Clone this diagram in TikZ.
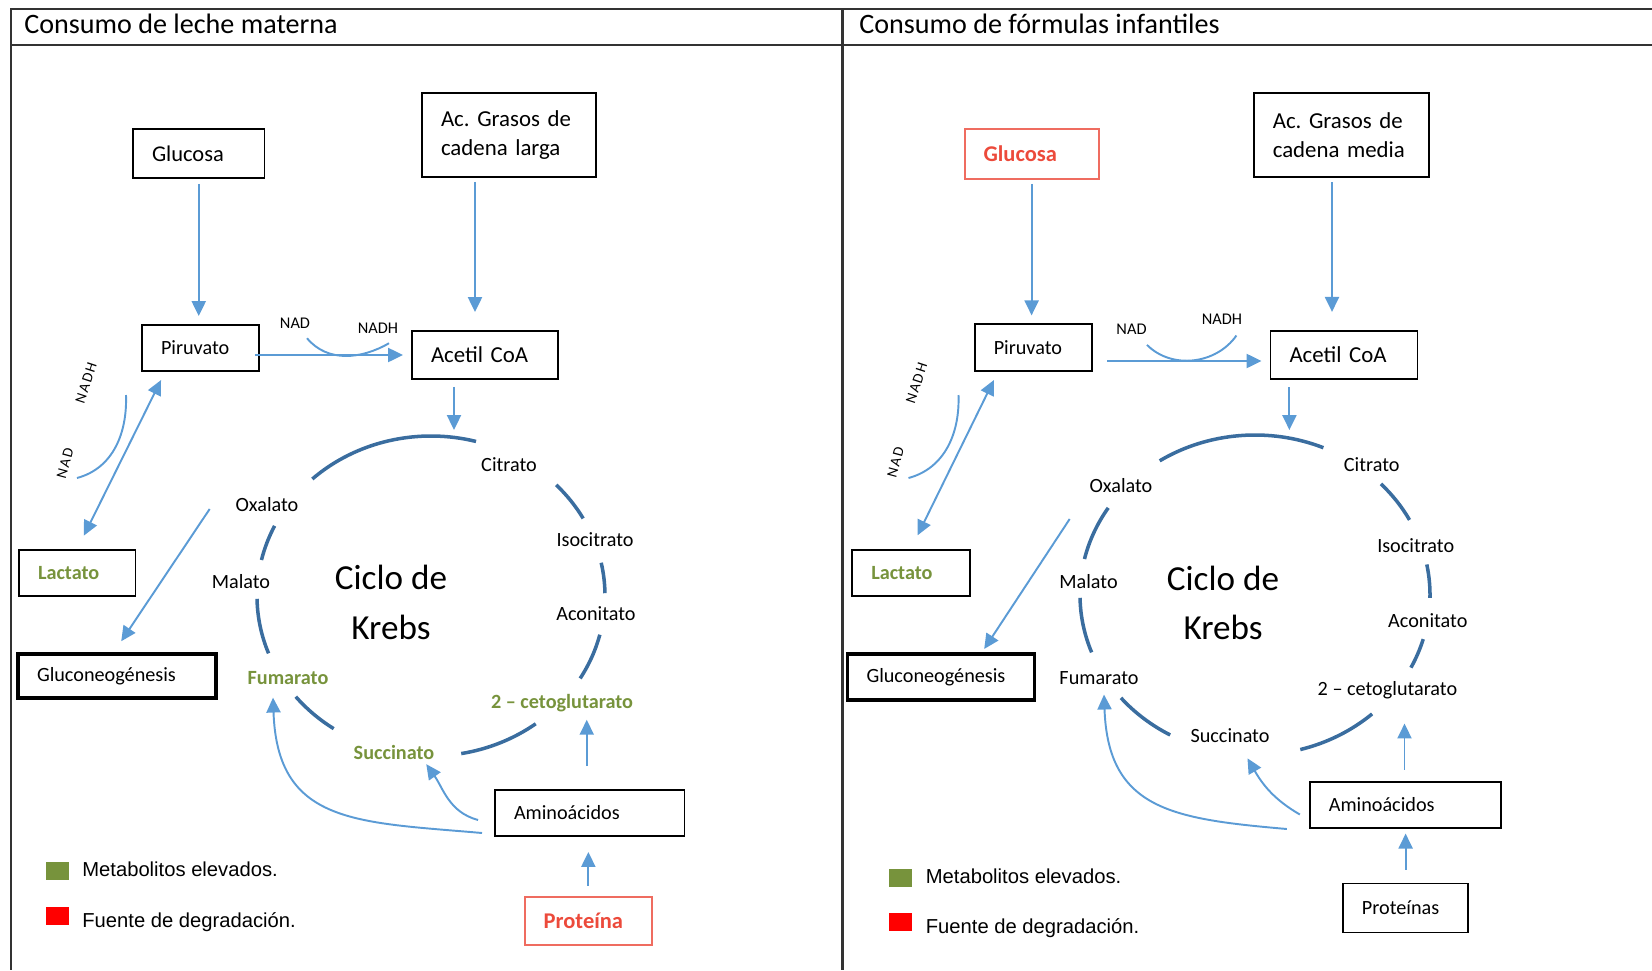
\documentclass[tikz,border=0pt]{standalone}
\usepackage{fontspec}
\setmainfont{Carlito}
\newfontfamily\legfont{Liberation Sans}
\newfontfamily\cofzfont[LetterSpace=12]{Carlito}
\usetikzlibrary{arrows.meta}
\newlength{\upx}
\setlength{\upx}{0.02cm}
\definecolor{arrblue}{HTML}{5B9BD5}
\definecolor{cycblue}{HTML}{3A6D9F}
\definecolor{okgreen}{HTML}{77933C}
\definecolor{srcred}{HTML}{EC4A3B}
\definecolor{srcline}{HTML}{EF6C60}
\frenchspacing

\begin{document}
\begin{tikzpicture}[x=0.02cm, y=0.02cm,
  every node/.style={font=\fontsize{11.5}{14}\selectfont, inner sep=1.5pt},
  >={Triangle[length=8.5pt, width=8pt]},
  panel/.style={black!80, line width=1.2pt},
  box/.style={draw, line width=1.1pt, inner xsep=19\upx, inner ysep=0pt, align=left},
  elev/.style={text=okgreen, font=\bfseries\fontsize{11.5}{14}\selectfont},
  src/.style={draw=srcline, text=srcred, font=\bfseries\fontsize{12.8}{15}\selectfont},
  cof/.style={font=\fontsize{9.3}{11}\selectfont},
  cofz/.style={font=\cofzfont\fontsize{8.5}{10}\selectfont, inner sep=0pt},
  ttl/.style={anchor=base west, inner sep=0pt, font=\fontsize{16}{18}\selectfont},
  arr/.style={->, arrblue, line width=1.1pt},
  thinb/.style={arrblue, line width=1.1pt},
  cyc/.style={cycblue, line width=2pt},
  keytxt/.style={font=\legfont\fontsize{11.5}{13}\selectfont, inner sep=0pt, anchor=base west}]
  \useasboundingbox (0,0) rectangle (1652,-970);

  \draw[panel] (1652,-9) -- (11,-9) -- (11,-970);
  \draw[panel] (11,-45) -- (1652,-45);
  \draw[panel] (842.5,-9) -- (842.5,-970);
  \node[ttl] (ttlL) at (24,-33) {Consumo de leche materna};
  \node[ttl] (ttlR) at (859,-33) {Consumo de fórmulas infantiles};

  \node[box, text width=93.5\upx, minimum height=49\upx, font=\fontsize{12.8}{15}\selectfont] (gluL) at (198.75,-153.5) {Glucosa};
  \node[box, text width=136\upx, minimum height=84\upx, font=\fontsize{13}{16.5}\selectfont] (acgL) at (509,-135) {Ac. Grasos de\\cadena larga};
  \node[box, text width=79\upx, minimum height=46\upx] (pirL) at (200.5,-348) {Piruvato};
  \node[box, text width=108\upx, minimum height=48\upx, font=\fontsize{13}{15}\selectfont] (acoL) at (485,-355) {Acetil CoA};
  \node[box, elev, text width=78.5\upx, minimum height=46\upx] (lacL) at (77.25,-573) {Lactato};
  \node[box, line width=2.2pt, text width=160\upx, minimum height=44\upx] (gngL) at (117,-676) {Gluconeogénesis};
  \node[box, text width=151.5\upx, minimum height=46\upx] (amiL) at (589.75,-813) {Aminoácidos};
  \node[box, src, text width=89.3\upx, minimum height=48.5\upx] (proL) at (588.35,-921) {Proteína};
  \node[cof] (nadL) at (295,-323) {NAD};
  \node[cof] (nadhL) at (378,-328) {NADH};
  \node[cofz, rotate=72] (nadhzL) at (86,-383) {NADH};
  \node[cofz, rotate=75] (nadzL) at (65,-463) {NAD};
  \node (oxaL) at (267,-505) {Oxalato};
  \node (citL) at (509,-465) {Citrato};
  \node (isoL) at (595,-540) {Isocitrato};
  \node (acnL) at (596,-614) {Aconitato};
  \node[elev] (cetL) at (562,-703) {2 – cetoglutarato};
  \node[elev] (sucL) at (394,-752) {Succinato};
  \node[elev] (fumL) at (288,-678) {Fumarato};
  \node (malL) at (241,-582) {Malato};
  \node[align=center, font=\fontsize{20}{28}\selectfont] (kreL) at (391,-602.5) {Ciclo de\\Krebs};
  \coordinate (cycL) at (431,-596);
  \coordinate (topL) at (454,-430);

  \draw[arr, shorten <=5\upx, shorten >=8\upx] (gluL.south) -- (gluL.south |- pirL.north);
  \draw[arr, shorten <=4\upx, shorten >=18\upx] ([xshift=-10\upx]acoL.north |- acgL.south) -- ([xshift=-10\upx]acoL.north);
  \draw[arr, shorten <=-5\upx, shorten >=8\upx] (pirL.east |- acoL.west) -- (acoL.west);
  \draw[thinb] ([shift={(12\upx,-7\upx)}]nadL.south) to[out=-50, in=-150] ([shift={(11\upx,-7\upx)}]nadhL.south);
  \draw[thinb] ([shift={(40\upx,-12\upx)}]nadhzL.center) to[out=-88, in=15] ([shift={(12\upx,-15\upx)}]nadzL.center);
  \draw[arr, <->, shorten <=15\upx, shorten >=9\upx] (lacL.north) -- ([xshift=24\upx]pirL.south west);
  \draw[arr, shorten >=13\upx] ([shift={(-23\upx,-4\upx)}]oxaL.west) -- ([xshift=-3\upx]gngL.north);
  \draw[arr, shorten <=7\upx] (topL |- acoL.south) -- (topL);
  \foreach \a/\b in {133/75, 44/29, 12/1, -14/-31, -53/-80, 236/219, 201/181, 167/154}
    \draw[cyc] (cycL) ++(\a:174 and 160) arc[start angle=\a, end angle=\b, x radius=174, y radius=160];
  \draw[arr, shorten <=23\upx, shorten >=5\upx] ([xshift=-3\upx]amiL.north) -- ([xshift=-3\upx]amiL.north |- cetL.south);
  \draw[arr, shorten <=10\upx, shorten >=15\upx] (proL.north) -- (proL.north |- amiL.south);
  \draw[arr] ([shift={(-16\upx,-7\upx)}]amiL.west) to[out=165, in=-55] ([shift={(-11\upx,-2\upx)}]sucL.south east);
  \draw[arr] ([shift={(-12\upx,-20\upx)}]amiL.west) to[out=175, in=-88, looseness=1.3] ([shift={(-15\upx,-10\upx)}]fumL.south);

  \node[box, src, text width=96\upx, minimum height=50\upx] (gluR) at (1031.6,-154) {Glucosa};
  \node[box, text width=137\upx, minimum height=84.6\upx, font=\fontsize{13}{16.5}\selectfont] (acgR) at (1341.3,-135) {Ac. Grasos de\\cadena media};
  \node[box, text width=79.5\upx, minimum height=46.7\upx] (pirR) at (1033.5,-347.7) {Piruvato};
  \node[box, text width=109\upx, minimum height=48.3\upx, font=\fontsize{13}{15}\selectfont] (acoR) at (1344,-355) {Acetil CoA};
  \node[box, elev, text width=79.5\upx, minimum height=46.6\upx] (lacR) at (911,-573) {Lactato};
  \node[box, line width=2.2pt, text width=149\upx, minimum height=45.5\upx] (gngR) at (941,-677) {Gluconeogénesis};
  \node[box, text width=153.4\upx, minimum height=46.6\upx] (amiR) at (1405.5,-805) {Aminoácidos};
  \node[box, text width=87.3\upx, minimum height=49\upx] (proR) at (1405.6,-908) {Proteínas};
  \node[cof] (nadR) at (1131.5,-329) {NAD};
  \node[cof] (nadhR) at (1222,-319.3) {NADH};
  \node[cofz, rotate=72] (nadhzR) at (916.5,-383.3) {NADH};
  \node[cofz, rotate=75] (nadzR) at (895.5,-462) {NAD};
  \node (oxaR) at (1121,-486) {Oxalato};
  \node (citR) at (1371.7,-464.7) {Citrato};
  \node (isoR) at (1415.7,-545.5) {Isocitrato};
  \node (acnR) at (1427.8,-620.7) {Aconitato};
  \node (cetR) at (1387.4,-689.8) {2 – cetoglutarato};
  \node (sucR) at (1230,-735.3) {Succinato};
  \node (fumR) at (1099,-678) {Fumarato};
  \node (malR) at (1088.5,-581.8) {Malato};
  \node[align=center, font=\fontsize{20}{28}\selectfont] (kreR) at (1223,-602.6) {Ciclo de\\Krebs};
  \coordinate (cycR) at (1255,-595);
  \coordinate (topR) at (1289.4,-430);

  \draw[arr, shorten <=4\upx, shorten >=8\upx] (gluR.south) -- (gluR.south |- pirR.north);
  \draw[arr, shorten <=4\upx, shorten >=18\upx] ([xshift=-12\upx]acoR.north |- acgR.south) -- ([xshift=-12\upx]acoR.north);
  \draw[arr, shorten <=14\upx, shorten >=8\upx] ([yshift=-6\upx]acoR.west -| pirR.east) -- ([yshift=-6\upx]acoR.west);
  \draw[thinb] ([shift={(15.5\upx,-7.7\upx)}]nadR.south) to[out=-45, in=-125] ([shift={(14.4\upx,-8\upx)}]nadhR.south);
  \draw[thinb] ([shift={(42\upx,-11.7\upx)}]nadhzR.center) to[out=-88, in=15] ([shift={(13\upx,-16\upx)}]nadzR.center);
  \draw[arr, <->, shorten <=15\upx, shorten >=9\upx] (lacR.north) -- ([xshift=24\upx]pirR.south west);
  \draw[arr, shorten >=4\upx] ([shift={(-17\upx,-33\upx)}]oxaR.west) -- ([xshift=41\upx]gngR.north);
  \draw[arr, shorten <=7\upx] (topR |- acoR.south) -- (topR);
  \foreach \a/\b in {123/67, 44/28, 11/-1, -16/-27, -48/-75, 241/220, 201/181, 167/147}
    \draw[cyc] (cycR) ++(\a:175 and 160) arc[start angle=\a, end angle=\b, x radius=175, y radius=160];
  \draw[arr, shorten <=11\upx, shorten >=22\upx] ([xshift=-1\upx]amiR.north) -- ([xshift=-1\upx]amiR.north |- cetR.south);
  \draw[arr, shorten <=12.6\upx, shorten >=4.3\upx] (proR.north) -- (proR.north |- amiR.south);
  \draw[arr] ([shift={(-9\upx,-9.5\upx)}]amiR.west) to[out=150, in=-60] ([shift={(-25\upx,-13\upx)}]sucR.south east);
  \draw[arr] ([shift={(-22\upx,-24\upx)}]amiR.west) to[out=175, in=-88, looseness=1.3] ([shift={(5\upx,-7\upx)}]fumR.south);

  \foreach \lx/\ly/\p in {45.5/862/L, 889/868.4/R} {
    \node[fill=okgreen, minimum width=23\upx, minimum height=18\upx, inner sep=0pt, anchor=north west] (grn\p) at (\lx,-\ly) {};
    \node[fill=red, minimum width=23\upx, minimum height=18\upx, inner sep=0pt, anchor=north west] (red\p) at (\lx,-\ly-44.5) {};
    \node[keytxt] (metT\p) at (\lx+36.5,-\ly-14.7) {Metabolitos elevados.};
    \node[keytxt] (fueT\p) at (\lx+36.5,-\ly-65.5) {Fuente de degradación.};
  }
\end{tikzpicture}
\end{document}
